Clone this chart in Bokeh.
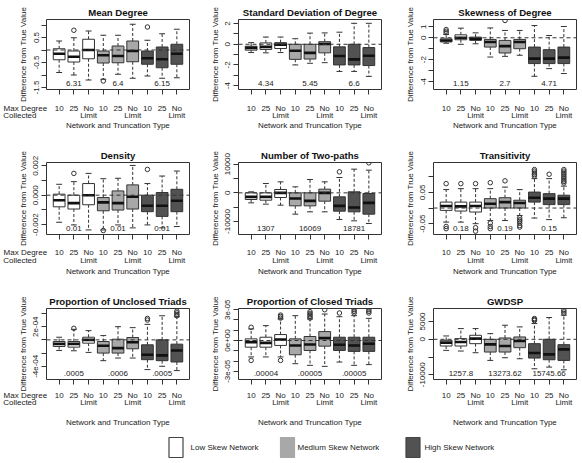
from bokeh.plotting import figure
from bokeh.layouts import column, row
from bokeh.models import (Range1d, FixedTicker, CustomJSTickFormatter, Span,
                          LinearAxis)
from bokeh.embed import file_html
from bokeh.resources import INLINE
from bokeh.core.properties import value

FONT = "Liberation Sans"
NB = "\u00a0"

# ---------------- data ----------------
positions = [1, 2, 3, 4, 5, 6, 7, 8, 9]
cat_top = ["10", "25", "No", "10", "25", "No", "10", "25", "No"]
cat_bottom_pos = [3, 6, 9]
cat_bottom = ["Limit", "Limit", "Limit"]
side_label = ["Max Degree", "Collected"]
groups = ["Low Skew Network", "Medium Skew Network", "High Skew Network"]
group_fill = ["#ffffff", "#a8a8a8", "#525252"]
truth_pos = [2, 5, 8]

# Mean Degree
md_lo = [-0.90, -1.00, -1.20, -1.17, -0.97, -1.13, -1.04, -1.13, -1.11]
md_q1 = [-0.39, -0.48, -0.35, -0.52, -0.51, -0.47, -0.57, -0.71, -0.57]
md_med = [-0.15, -0.27, 0.00, -0.21, -0.24, -0.04, -0.33, -0.37, -0.15]
md_q3 = [0.05, -0.04, 0.43, -0.04, 0.16, 0.36, -0.04, 0.12, 0.23]
md_hi = [0.36, 0.49, 0.76, 0.59, 0.59, 1.03, 0.39, 0.65, 0.83]
md_out_pos = [2, 4, 7]
md_out_val = [0.79, -1.24, 0.92]
md_truth = ["6.31", "6.4", "6.15"]
md_ticks = [-1.5, -1.0, -0.5, 0.0, 0.5, 1.0]
md_tlabels = ["-1.5", "", "-0.5", "", "0.5", ""]

# Standard Deviation of Degree
sd_lo = [-0.80, -0.83, -0.80, -2.00, -1.84, -1.78, -2.63, -2.63, -3.11]
sd_q1 = [-0.57, -0.50, -0.41, -1.46, -1.43, -0.83, -2.00, -2.00, -2.06]
sd_med = [-0.35, -0.25, -0.03, -0.63, -0.83, 0.03, -1.14, -1.46, -1.11]
sd_q3 = [-0.19, 0.13, 0.16, 0.00, 0.00, 0.25, -0.25, 0.00, -0.32]
sd_hi = [0.16, 0.70, 0.70, 0.54, 1.08, 1.10, 1.17, 2.03, 2.03]
sd_out_pos = []
sd_out_val = []
sd_truth = ["4.34", "5.45", "6.6"]
sd_ticks = [-4, -3, -2, -1, 0, 1, 2]
sd_tlabels = ["-4", "", "-2", "", "0", "", "2"]

# Skewness of Degree
sk_lo = [-0.50, -0.60, -0.55, -1.76, -1.70, -1.60, -3.52, -2.82, -3.27]
sk_q1 = [-0.38, -0.18, -0.24, -0.85, -1.39, -1.00, -2.36, -2.36, -2.36]
sk_med = [-0.25, 0.00, -0.09, -0.39, -0.76, -0.39, -1.91, -1.91, -1.82]
sk_q3 = [-0.10, 0.27, 0.06, -0.15, -0.24, -0.15, -0.85, -1.09, -0.85]
sk_hi = [0.30, 0.88, 0.45, 0.90, 0.67, 0.67, 1.12, 0.21, 1.03]
sk_out_pos = [1, 1, 1, 5]
sk_out_val = [0.45, 0.60, 0.75, 1.58]
sk_truth = ["1.15", "2.7", "4.71"]
sk_ticks = [-4, -3, -2, -1, 0, 1]
sk_tlabels = ["-4", "", "-2", "", "0", "1"]

# Density
de_lo = [-0.00184, -0.00202, -0.00236, -0.00236, -0.00202, -0.00222, -0.00202, -0.00222, -0.00213]
de_q1 = [-0.00079, -0.00094, -0.00065, -0.00106, -0.00101, -0.00094, -0.00112, -0.00144, -0.00112]
de_med = [-0.00034, -0.00054, 0.0, -0.00049, -0.00054, -0.00011, -0.00072, -0.00072, -0.00038]
de_q3 = [0.00007, 0.0, 0.00079, -0.00016, 0.00029, 0.00070, 0.0, 0.00018, 0.00040]
de_hi = [0.00074, 0.00092, 0.00148, 0.00112, 0.00115, 0.00202, 0.00079, 0.00130, 0.00164]
de_out_pos = [2, 4, 7]
de_out_val = [0.00148, -0.00240, 0.00175]
de_truth = ["0.01", "0.01", "0.01"]
de_ticks = [-0.002, -0.001, 0.0, 0.001, 0.002]
de_tlabels = ["-0.002", "", "0.000", "", "0.002"]

# Number of Two-paths
tp_lo = [-3488, -3953, -4302, -7442, -6628, -6628, -9302, -9767, -10698]
tp_q1 = [-2326, -2558, -1628, -4535, -4535, -2907, -6395, -6628, -7442]
tp_med = [-1395, -1395, 0, -1977, -2791, 0, -4535, -5116, -3488]
tp_q3 = [0, 0, 1163, 0, 0, 1279, -1395, 349, -233]
tp_hi = [350, 3256, 3837, 2093, 4651, 3837, 5349, 8256, 7907]
tp_out_pos = [7, 9]
tp_out_val = [7326, 10465]
tp_truth = ["1307", "16069", "18781"]
tp_ticks = [-10000, -5000, 0, 5000, 10000]
tp_tlabels = ["-10000", "", "0", "", "10000"]

# Transitivity
tr_lo = [-0.045, -0.045, -0.050, -0.040, -0.040, -0.024, -0.032, -0.037, -0.031]
tr_q1 = [-0.0075, -0.0096, -0.0128, 0.0, 0.0, 0.0, 0.019, 0.011, 0.011]
tr_med = [0.0064, 0.0054, 0.0064, 0.0139, 0.019, 0.016, 0.033, 0.030, 0.030]
tr_q3 = [0.019, 0.019, 0.019, 0.030, 0.033, 0.025, 0.051, 0.046, 0.041]
tr_hi = [0.059, 0.062, 0.062, 0.062, 0.067, 0.059, 0.094, 0.094, 0.070]
tr_out_pos = [1, 1, 1, 2, 3, 3, 3, 4, 4, 4, 4, 5, 6, 6, 6, 6, 6, 6,
              7, 7, 7, 7, 7, 8, 9, 9, 9, 9, 9, 9, 9, 9, 9]
tr_out_val = [0.078, -0.059, -0.066, 0.078, 0.078, -0.063, -0.074,
              0.081, -0.048, -0.059, -0.066, 0.087,
              -0.031, -0.0375, -0.042, -0.048, -0.056, -0.061,
              0.102, 0.107, 0.112, 0.118, 0.123, 0.108,
              0.080, 0.085, 0.090, 0.096, 0.101, 0.107, 0.112, 0.118, 0.123]
tr_truth = ["0.18", "0.19", "0.15"]
tr_ticks = [-0.05, 0.0, 0.05, 0.1]
tr_tlabels = ["-0.05", "", "0.05", ""]

# Proportion of Unclosed Triads
ut_lo = [-1.6e-4, -1.65e-4, -1.9e-4, -3.15e-4, -2.75e-4, -2.75e-4, -4.5e-4, -4.0e-4, -4.65e-4]
ut_q1 = [-1.0e-4, -1.1e-4, -0.5e-4, -2.0e-4, -2.0e-4, -1.35e-4, -3.0e-4, -3.15e-4, -3.35e-4]
ut_med = [-0.6e-4, -0.6e-4, 0.0, -0.9e-4, -1.25e-4, -0.35e-4, -2.25e-4, -2.35e-4, -1.6e-4]
ut_q3 = [-0.25e-4, -0.25e-4, 0.4e-4, -0.25e-4, 0.1e-4, 0.35e-4, -0.75e-4, 0.0, -0.65e-4]
ut_hi = [0.4e-4, 1.6e-4, 1.4e-4, 0.65e-4, 2.0e-4, 1.85e-4, 2.35e-4, 3.65e-4, 3.5e-4]
ut_out_pos = [2, 7, 7, 9, 9, 9, 9]
ut_out_val = [1.75e-4, 3.0e-4, 3.25e-4, 3.65e-4, 3.85e-4, 4.1e-4, 4.35e-4]
ut_truth = [".0005", ".0006", ".0005"]
ut_ticks = [-4e-4, -2e-4, 0.0, 2e-4, 4e-4]
ut_tlabels = ["-4e-04", "", "", "2e-04", ""]

# Proportion of Closed Triads
ct_lo = [-1.6e-5, -1.6e-5, -1.6e-5, -2.26e-5, -2.42e-5, -2.52e-5, -2.1e-5, -2.42e-5, -2.35e-5]
ct_q1 = [-6.5e-6, -6.5e-6, -4.8e-6, -1.39e-5, -9.7e-6, -5.5e-6, -9.7e-6, -1.06e-5, -1.06e-5]
ct_med = [-1.6e-6, -2.3e-6, 1.0e-6, -4.8e-6, -3.9e-6, 2.3e-6, -4.2e-6, -4.8e-6, -3.2e-6]
ct_q3 = [1.6e-6, 3.2e-6, 5.8e-6, 1.6e-6, 3.9e-6, 8.7e-6, 3.2e-6, 3.2e-6, 3.2e-6]
ct_hi = [1.13e-5, 1.45e-5, 2.1e-5, 2.42e-5, 2.1e-5, 2.58e-5, 2.32e-5, 2.42e-5, 2.16e-5]
ct_out_pos = [1, 1, 3, 3, 3, 3, 5, 5, 5, 5, 5, 6, 7, 8, 8, 8, 9, 9, 9]
ct_out_val = [1.29e-5, -1.94e-5, 2.19e-5, 2.35e-5, 2.48e-5, -1.94e-5,
              2.19e-5, 2.35e-5, 2.5e-5, 2.65e-5, 2.81e-5, 3.0e-5, 2.68e-5,
              2.68e-5, 2.84e-5, 3.0e-5, 2.68e-5, 2.84e-5, 3.0e-5]
ct_truth = [".00004", ".00005", ".00005"]
ct_ticks = [-3e-5, -2e-5, -1e-5, 0.0, 1e-5, 2e-5, 3e-5]
ct_tlabels = ["-3e-05", "", "", "0e+00", "", "", "3e-05"]

# GWDSP
gw_lo = [-3113, -3302, -3774, -5943, -5189, -5472, -8302, -7830, -8585]
gw_q1 = [-1887, -1887, -1226, -3585, -3585, -2358, -5283, -5755, -5943]
gw_med = [-943, -755, 189, -1415, -1887, -472, -3868, -4245, -2830]
gw_q3 = [-283, 189, 1132, 0, 377, 660, -1226, 0, -1509]
gw_hi = [943, 3019, 3019, 1604, 3962, 3491, 4434, 6132, 6792]
gw_out_pos = [7, 7, 7, 9, 9, 9]
gw_out_val = [5283, 5566, 5849, 7264, 7736, 8208]
gw_truth = ["1257.8", "13273.62", "15745.66"]
gw_ticks = [-10000, -5000, 0, 5000]
gw_tlabels = ["-10000", "", "0", "5000"]

# ---------------- layout / style ----------------
EDGE = "#333333"
TXT = "#222222"
fills = [group_fill[i // 3] for i in range(9)]
LEFTS = [46, 44, 45]
RIGHTS = [5, 7, 6]
TOP = 19
FRAMES = [70, 72, 71]
BOTTOMS = [54, 55, 51]
B_STANDOFF = [9, 8, 6]
L2_STANDOFF = [-5, -4, -5]
XL_STANDOFF = [-2, -1, 8]
SIDE_PAD = [19, 24]
X0, X1 = 0.14, 9.86


def fmt(tv, tl):
    return CustomJSTickFormatter(args=dict(tv=tv, tl=tl), code="""
        for (let i = 0; i < tv.length; i++) {
            if (Math.abs(tick - tv[i]) <= 1e-9 * Math.max(Math.abs(tv[i]), 1e-9)) return tl[i];
        }
        return "";
    """)


def style_axis(ax):
    ax.axis_line_color = None
    ax.minor_tick_out = 0
    ax.minor_tick_in = 0
    ax.major_tick_in = 0
    ax.major_tick_line_color = EDGE
    ax.major_label_text_font = FONT
    ax.major_label_text_font_size = "8px"
    ax.major_label_text_color = TXT
    ax.axis_label_text_font = FONT
    ax.axis_label_text_font_size = "8px"
    ax.axis_label_text_font_style = "normal"
    ax.axis_label_text_color = TXT


def make_panel(title, lo, q1, med, q3, hi, out_pos, out_val, truth, ylim,
               yticks, ylabels, col, rw):
    fh = FRAMES[rw]
    h = TOP + fh + BOTTOMS[rw]
    p = figure(width=194, height=h, x_range=Range1d(X0, X1),
               y_range=Range1d(ylim[0], ylim[1]), output_backend="svg",
               toolbar_location=None, min_border_left=LEFTS[col],
               min_border_right=RIGHTS[col], min_border_top=TOP,
               min_border_bottom=BOTTOMS[rw], title=title,
               x_axis_location=None)
    p.title.align = "center"
    p.title.text_font = FONT
    p.title.text_font_size = "9.6px"
    p.title.text_font_style = "bold"
    p.title.text_color = "#111111"
    p.title.standoff = 4
    p.grid.visible = False
    p.outline_line_color = EDGE
    p.outline_line_width = 1
    p.outline_line_alpha = 1

    # x axis: tick marks / first label line / second label line
    ax_ticks = LinearAxis(ticker=FixedTicker(ticks=positions),
                          formatter=fmt(positions, [""] * 9))
    style_axis(ax_ticks)
    ax_ticks.major_tick_out = 5
    ax_ticks.major_label_standoff = 0
    ax_ticks.major_label_text_font_size = "1px"

    t1_pos = list(positions)
    t1_lab = list(cat_top)
    t2_pos = list(cat_bottom_pos)
    t2_lab = list(cat_bottom)
    if col == 0:
        t1_pos = [X0 + 0.001] + t1_pos
        t1_lab = [side_label[0] + NB * SIDE_PAD[0]] + t1_lab
        t2_pos = [X0 + 0.001] + t2_pos
        t2_lab = [side_label[1] + NB * SIDE_PAD[1]] + t2_lab
    ax_l1 = LinearAxis(ticker=FixedTicker(ticks=t1_pos), formatter=fmt(t1_pos, t1_lab))
    style_axis(ax_l1)
    ax_l1.major_tick_out = 0
    ax_l1.major_tick_line_color = None
    ax_l1.major_label_standoff = B_STANDOFF[rw]
    ax_l2 = LinearAxis(ticker=FixedTicker(ticks=t2_pos), formatter=fmt(t2_pos, t2_lab),
                       axis_label="Network and Truncation Type")
    style_axis(ax_l2)
    ax_l2.major_tick_out = 0
    ax_l2.major_tick_line_color = None
    ax_l2.major_label_standoff = L2_STANDOFF[rw]
    ax_l2.axis_label_standoff = XL_STANDOFF[rw]
    p.add_layout(ax_ticks, "below")
    p.add_layout(ax_l1, "below")
    p.add_layout(ax_l2, "below")

    ya = p.yaxis[0]
    style_axis(ya)
    ya.ticker = FixedTicker(ticks=yticks)
    ya.formatter = fmt(yticks, ylabels)
    ya.major_label_orientation = "vertical"
    ya.axis_label = "Difference from True Value"
    ya.axis_label_standoff = 3
    ya.major_tick_out = 5
    ya.major_label_standoff = 3

    # whiskers
    p.segment(x0=positions, y0=q3, x1=positions, y1=hi, line_color=EDGE,
              line_dash="3 2", line_width=1)
    p.segment(x0=positions, y0=q1, x1=positions, y1=lo, line_color=EDGE,
              line_dash="3 2", line_width=1)
    # staples
    p.segment(x0=[x - 0.2 for x in positions], y0=hi,
              x1=[x + 0.2 for x in positions], y1=hi, line_color=EDGE, line_width=1)
    p.segment(x0=[x - 0.2 for x in positions], y0=lo,
              x1=[x + 0.2 for x in positions], y1=lo, line_color=EDGE, line_width=1)
    # boxes
    p.vbar(x=positions, width=0.8, top=q3, bottom=q1, fill_color=fills,
           line_color=EDGE, line_width=1)
    # medians
    p.segment(x0=[x - 0.4 for x in positions], y0=med,
              x1=[x + 0.4 for x in positions], y1=med, line_color="#111111",
              line_width=2.6)
    # outliers
    if out_pos:
        p.scatter(x=out_pos, y=out_val, marker="circle", size=4.5,
                  fill_color=None, line_color=EDGE, line_width=1)
    # zero line
    p.add_layout(Span(location=0, dimension="width", line_color=EDGE,
                      line_dash="4 3", line_width=1))
    # true values
    yr = ylim[1] - ylim[0]
    ty = ylim[0] + 6.5 * yr / fh
    p.text(x=truth_pos, y=[ty] * 3, text=truth, text_align="center",
           text_baseline="middle", text_font=value(FONT),
           text_font_size=value("8px"), text_color=TXT)
    return p


panels = [
    [make_panel("Mean Degree", md_lo, md_q1, md_med, md_q3, md_hi, md_out_pos, md_out_val,
                md_truth, (-1.58, 1.22), md_ticks, md_tlabels, 0, 0),
     make_panel("Standard Deviation of Degree", sd_lo, sd_q1, sd_med, sd_q3, sd_hi, sd_out_pos,
                sd_out_val, sd_truth, (-4.38, 2.4), sd_ticks, sd_tlabels, 1, 0),
     make_panel("Skewness of Degree", sk_lo, sk_q1, sk_med, sk_q3, sk_hi, sk_out_pos, sk_out_val,
                sk_truth, (-4.73, 1.67), sk_ticks, sk_tlabels, 2, 0)],
    [make_panel("Density", de_lo, de_q1, de_med, de_q3, de_hi, de_out_pos, de_out_val,
                de_truth, (-0.00267, 0.00222), de_ticks, de_tlabels, 0, 1),
     make_panel("Number of Two-paths", tp_lo, tp_q1, tp_med, tp_q3, tp_hi, tp_out_pos, tp_out_val,
                tp_truth, (-14535, 10581), tp_ticks, tp_tlabels, 1, 1),
     make_panel("Transitivity", tr_lo, tr_q1, tr_med, tr_q3, tr_hi, tr_out_pos, tr_out_val,
                tr_truth, (-0.0846, 0.1456), tr_ticks, tr_tlabels, 2, 1)],
    [make_panel("Proportion of Unclosed Triads", ut_lo, ut_q1, ut_med, ut_q3, ut_hi, ut_out_pos,
                ut_out_val, ut_truth, (-6.0e-4, 4.75e-4), ut_ticks, ut_tlabels, 0, 2),
     make_panel("Proportion of Closed Triads", ct_lo, ct_q1, ct_med, ct_q3, ct_hi, ct_out_pos,
                ct_out_val, ct_truth, (-3.8e-5, 3.12e-5), ct_ticks, ct_tlabels, 1, 2),
     make_panel("GWDSP", gw_lo, gw_q1, gw_med, gw_q3, gw_hi, gw_out_pos, gw_out_val,
                gw_truth, (-11321, 8679), gw_ticks, gw_tlabels, 2, 2)],
]

# legend strip
lg = figure(width=582, height=33, x_range=Range1d(0, 582), y_range=Range1d(0, 33),
            output_backend="svg", toolbar_location=None, x_axis_location=None,
            y_axis_location=None, min_border=0)
lg.outline_line_color = None
lg.grid.visible = False
key_x = [175.5, 287, 412.5]
label_x = [190, 297, 424]
lg.rect(x=key_x, y=[16] * 3, width=14, height=20, fill_color=group_fill,
        line_color=["#444444", "#a8a8a8", "#444444"], line_width=1.2)
lg.text(x=label_x, y=[16] * 3, text=groups, text_baseline="middle", text_align="left",
        text_font=value(FONT), text_font_size=value("8px"), text_color=TXT)

layout = column(*[row(*r) for r in panels], lg)
open("out.html", "w").write(file_html(layout, INLINE))
